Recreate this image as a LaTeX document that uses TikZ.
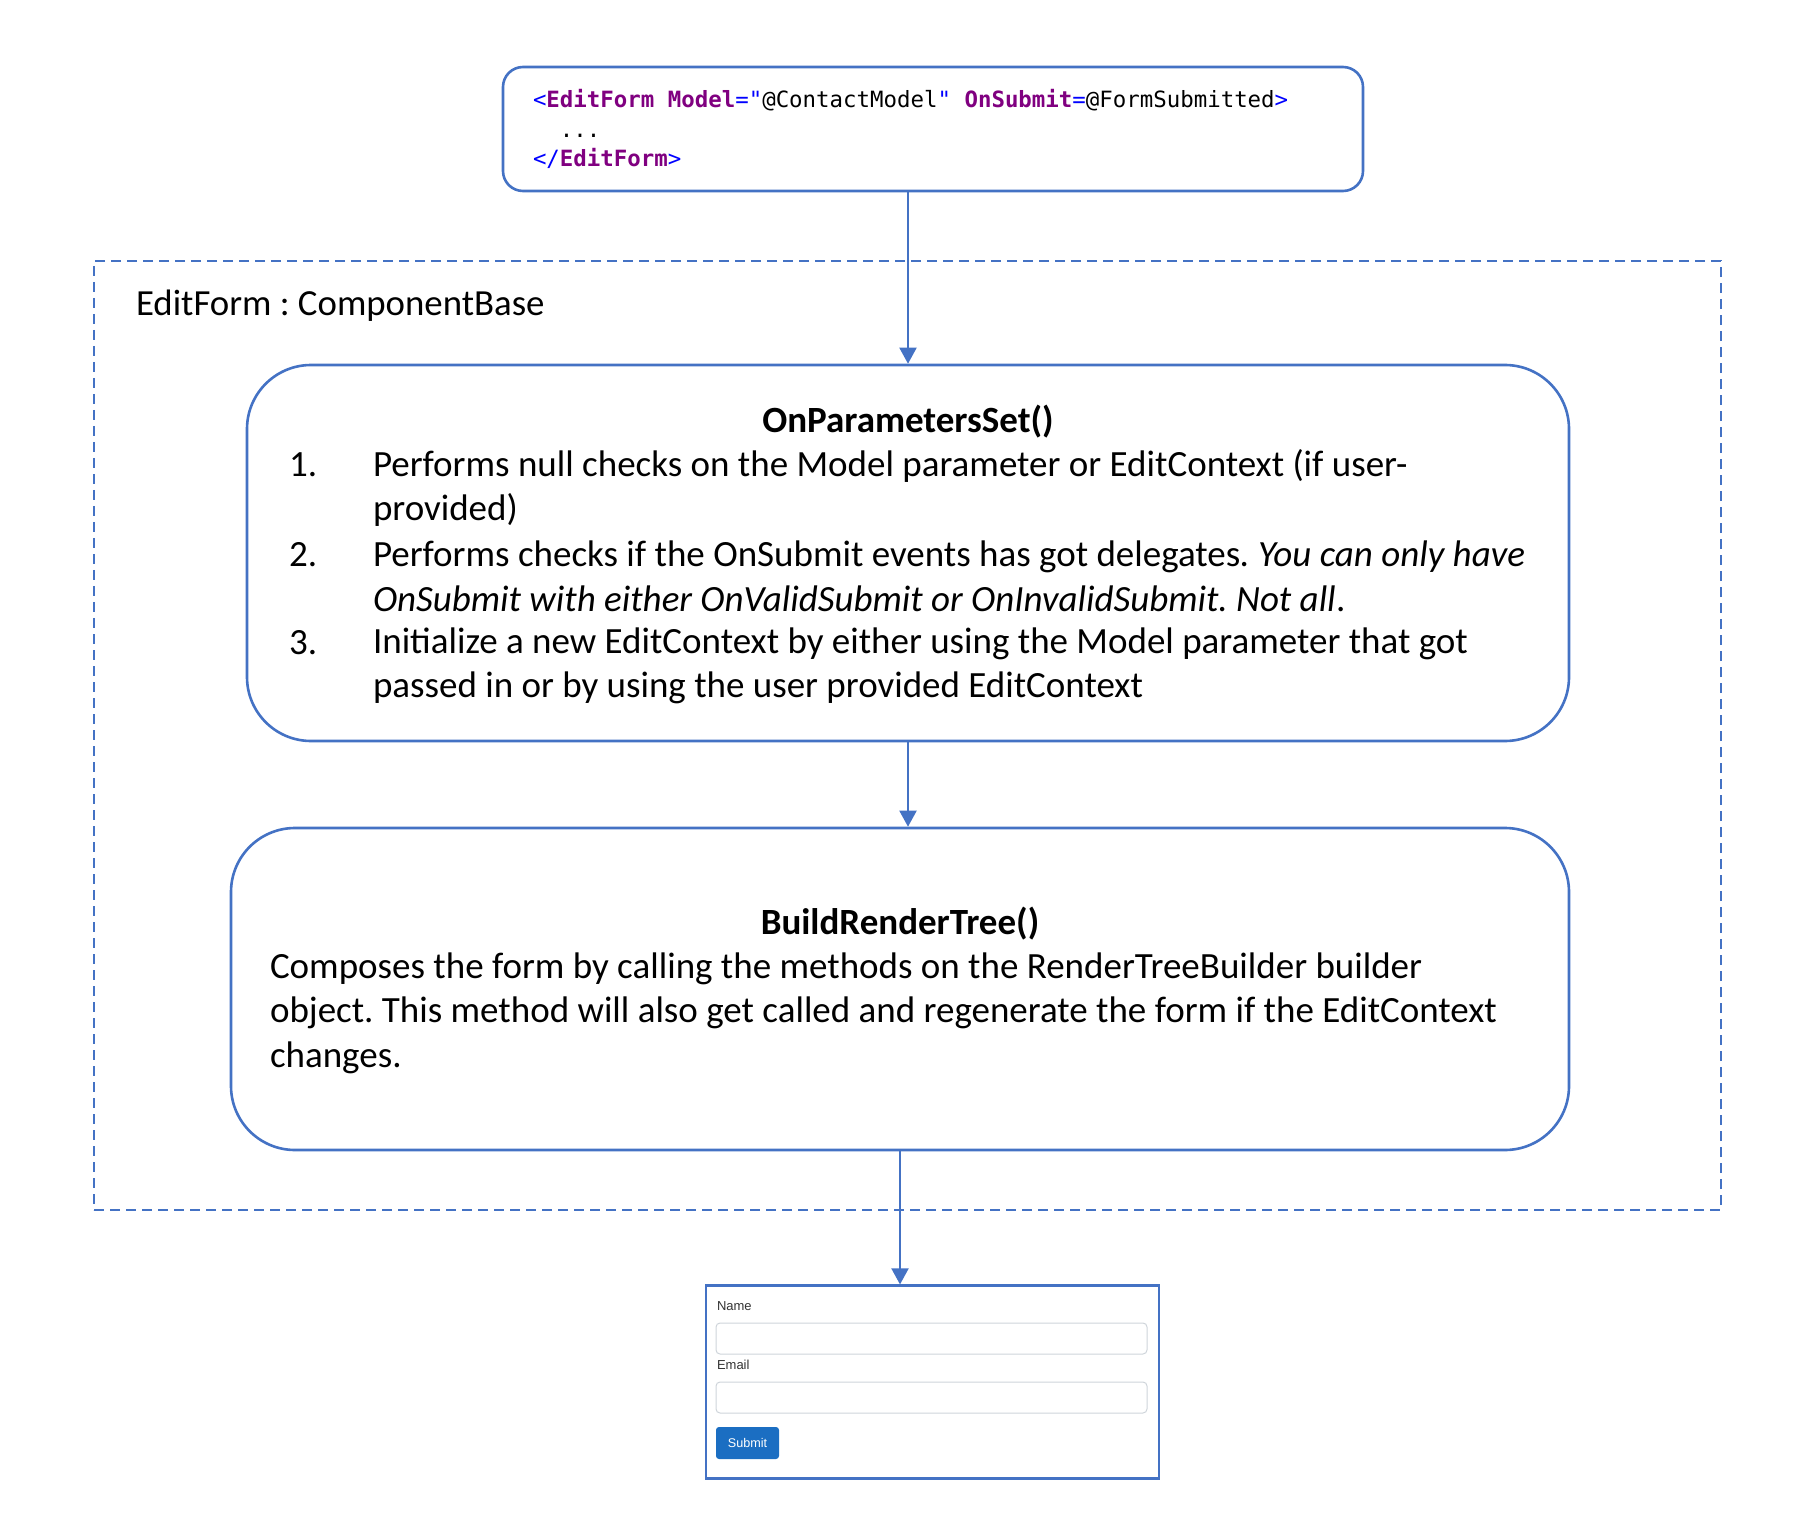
\documentclass[tikz,border=0pt]{standalone}
\usepackage{fontspec}
\setmainfont{Carlito}
\setsansfont{Liberation Sans}
\setmonofont{DejaVu Sans Mono}
\usetikzlibrary{arrows.meta, positioning}
\definecolor{boxblue}{RGB}{68,114,196}
\definecolor{tagblue}{RGB}{0,0,255}
\definecolor{kwpurple}{RGB}{128,0,128}
\definecolor{btnblue}{RGB}{27,110,194}
\definecolor{fieldgray}{RGB}{206,212,218}
\newcommand{\tg}[1]{\textcolor{tagblue}{#1}}
\newcommand{\kw}[1]{\textcolor{kwpurple}{\textbf{#1}}}
\frenchspacing
\tikzset{
  ->,
  >={Triangle[width=8.5pt,length=8pt]},
  every node/.style={inner sep=0pt},
  codebox/.style={draw=boxblue, line width=1.3pt, rounded corners=10pt},
  stepbox/.style={draw=boxblue, line width=1.3pt, rounded corners=32pt},
  steptext/.style={font=\fontsize{18.5}{22.3}\selectfont, align=left, anchor=west},
  field/.style={draw=fieldgray, line width=0.5pt, rounded corners=2pt},
  formlabel/.style={font=\sffamily\fontsize{6.5}{8}\selectfont, text=black!80, anchor=west},
}

\begin{document}
\begin{tikzpicture}[x=0.5pt, y=-0.5pt, boxblue, line width=1pt]
  \useasboundingbox (0,0) rectangle (1805,1530);

  % markup
  \node[codebox, minimum width=430pt, minimum height=62pt, -] (code) at (933,129) {};
  \node[anchor=west, align=left, text=black, font=\ttfamily\fontsize{11.2}{14.8}\selectfont] (codetext) at (532,129)
    {\tg{<}\kw{EditForm} \kw{Model}\tg{="}@ContactModel\tg{"} \kw{OnSubmit}\tg{=}@FormSubmitted\tg{>}\\
     \ \ ...\\
     \tg{</}\kw{EditForm}\tg{>}};

  % component
  \node[draw=boxblue, dash pattern=on 5pt off 3pt, line width=0.8pt,
        minimum width=813.5pt, minimum height=474.5pt, -] (frame) at (907.5,735.5) {};
  \node[anchor=west, text=black, font=\fontsize{18.4}{22}\selectfont] (base) at (135,306) {EditForm : ComponentBase};

  \node[stepbox, minimum width=661pt, minimum height=188pt, -] (params) at (908,553) {};
  \node[text=black, font=\bfseries\fontsize{18.5}{22.3}\selectfont] (ptitle) at (908,422) {OnParametersSet()};
  \node[steptext, text=black] (n1) at (288,465) {1.};
  \node[steptext, text=black] (n2) at (288,555) {2.};
  \node[steptext, text=black] (n3) at (288,643) {3.};
  \node[steptext, text=black] (s1) at (372,488)
    {Performs null checks on the Model parameter or EditContext (if user-\\provided)};
  \node[steptext, text=black] (s2) at (372,576)
    {Performs checks if the OnSubmit events has got delegates\textit{. You can only have}\\
     \textit{OnSubmit with either OnValidSubmit or OnInvalidSubmit. Not all}.};
  \node[steptext, text=black] (s3) at (372,666)
    {Initialize a new EditContext by either using the Model parameter that got\\
     passed in or by using the user provided EditContext};

  \node[stepbox, minimum width=669pt, minimum height=161pt, -] (render) at (900,989) {};
  \node[text=black, font=\bfseries\fontsize{18.5}{22.3}\selectfont] (rtitle) at (900,924) {BuildRenderTree()};
  \node[steptext, text=black] (rtext) at (269,1013)
    {Composes the form by calling the methods on the RenderTreeBuilder builder\\
     object. This method will also get called and regenerate the form if the EditContext\\
     changes.};

  % rendered form
  \node[draw=boxblue, line width=1.1pt, minimum width=226.5pt, minimum height=96.5pt, -] (form) at (932.5,1382) {};
  \node[formlabel] (namelabel) at (716,1306) {Name};
  \node[field, minimum width=215.5pt, minimum height=15.5pt, -] (namefield) at (931.5,1338.5) {};
  \node[formlabel] (emaillabel) at (716,1365) {Email};
  \node[field, minimum width=215.5pt, minimum height=15.5pt, -] (emailfield) at (931.5,1397.5) {};
  \node[fill=btnblue, rounded corners=1.5pt, minimum width=31.5pt, minimum height=16pt, text=white,
        font=\sffamily\fontsize{6.3}{8}\selectfont] (submit) at (747.5,1443) {Submit};

  % flow
  \draw (code.south -| params.north) -- (params.north);
  \draw (params.south) -- (params.south |- render.north);
  \draw (render.south) -- (render.south |- form.north);
\end{tikzpicture}
\end{document}
